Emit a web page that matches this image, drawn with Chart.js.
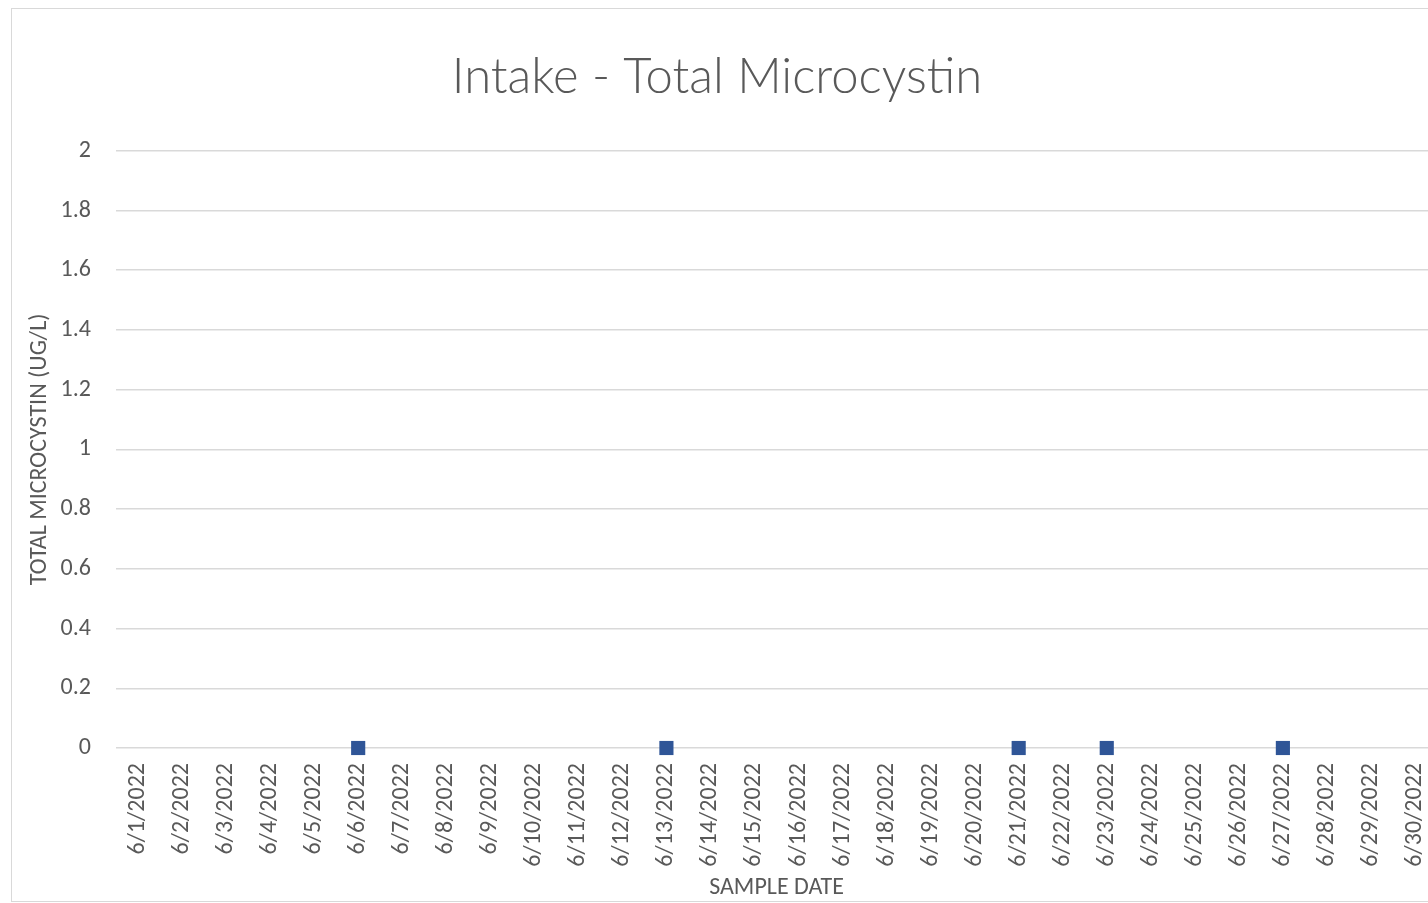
<!DOCTYPE html>
<html>
<head>
<meta charset="utf-8">
<script src="https://cdn.jsdelivr.net/npm/chart.js@4/dist/chart.umd.min.js"></script>
<style>
  html, body { margin: 0; padding: 0; background: #fff; overflow: hidden; }
  #frame {
    position: absolute; left: 11px; top: 8px;
    width: 1450px; height: 892px;
    border: 1px solid #d9d9d9; background: #fff;
  }
  /* canvas starts a bit left of the frame so the title centres like the original */
  #wrap { position: absolute; left: -25px; top: 0; width: 1460px; height: 892px; }
</style>
</head>
<body>
<div id="frame"><div id="wrap"><canvas id="chart"></canvas></div></div>
<script>
/* ── DATA ── */
var sampleDates = [
  '6/1/2022', '6/2/2022', '6/3/2022', '6/4/2022', '6/5/2022', '6/6/2022',
  '6/7/2022', '6/8/2022', '6/9/2022', '6/10/2022', '6/11/2022', '6/12/2022',
  '6/13/2022', '6/14/2022', '6/15/2022', '6/16/2022', '6/17/2022', '6/18/2022',
  '6/19/2022', '6/20/2022', '6/21/2022', '6/22/2022', '6/23/2022', '6/24/2022',
  '6/25/2022', '6/26/2022', '6/27/2022', '6/28/2022', '6/29/2022', '6/30/2022'
];
// samples taken on 6/6, 6/13, 6/21, 6/23, 6/27 (all non-detect = 0)
var microcystin = [
  null, null, null, null, null, 0,
  null, null, null, null, null, null,
  0, null, null, null, null, null,
  null, null, 0, null, 0, null,
  null, null, 0, null, null, null
];
var yTicks = [0, 0.2, 0.4, 0.6, 0.8, 1, 1.2, 1.4, 1.6, 1.8, 2];

var FONT = 'Carlito, Lato, "Noto Sans", sans-serif';
var TXT = '#595959';
var GRID = '#d9d9d9';

/* ── CHART ── */
var ctx = document.getElementById('chart');
new Chart(ctx, {
  type: 'line',
  data: {
    labels: sampleDates,
    datasets: [{
      label: 'Total Microcystin',
      data: microcystin,
      showLine: false,
      clip: false,
      pointStyle: 'rect',
      pointRadius: 10,
      pointHoverRadius: 10,
      pointBorderWidth: 0,
      pointBackgroundColor: '#2f5597',
      borderColor: '#2f5597'
    }]
  },
  options: {
    responsive: true,
    maintainAspectRatio: false,
    animation: false,
    layout: { padding: 0 },
    plugins: {
      legend: { display: false },
      tooltip: { enabled: false },
      title: {
        display: true,
        text: 'Intake - Total Microcystin',
        color: TXT,
        font: { family: 'Lato, Carlito, sans-serif', size: 49, weight: 300 },
        padding: { top: 39, bottom: 44 }
      }
    },
    scales: {
      x: {
        offset: true,
        afterFit: function (s) { s.height = 153; s.paddingLeft = 0; s.paddingRight = 0; },
        grid: { display: false, drawTicks: false },
        border: { display: false },
        ticks: {
          autoSkip: false,
          minRotation: 90,
          maxRotation: 90,
          padding: 15,
          color: TXT,
          font: { family: FONT, size: 24 }
        },
        title: {
          display: true,
          text: 'SAMPLE DATE',
          color: TXT,
          font: { family: FONT, size: 24 },
          padding: { top: 0, bottom: -1 }
        }
      },
      y: {
        min: 0,
        max: 2,
        afterFit: function (s) { s.width = 129; },
        afterBuildTicks: function (axis) {
          axis.ticks = yTicks.map(function (v) { return { value: v }; });
        },
        grid: { color: GRID, lineWidth: 1.5, drawTicks: false },
        border: { display: false },
        ticks: {
          padding: 25,
          color: TXT,
          font: { family: FONT, size: 24 },
          callback: function (v) { return String(Math.round(v * 10) / 10); }
        },
        title: {
          display: true,
          text: 'TOTAL MICROCYSTIN (UG/L)',
          color: TXT,
          font: { family: FONT, size: 24 },
          padding: { top: 39, bottom: 0 }
        }
      }
    }
  }
});
</script>
</body>
</html>
